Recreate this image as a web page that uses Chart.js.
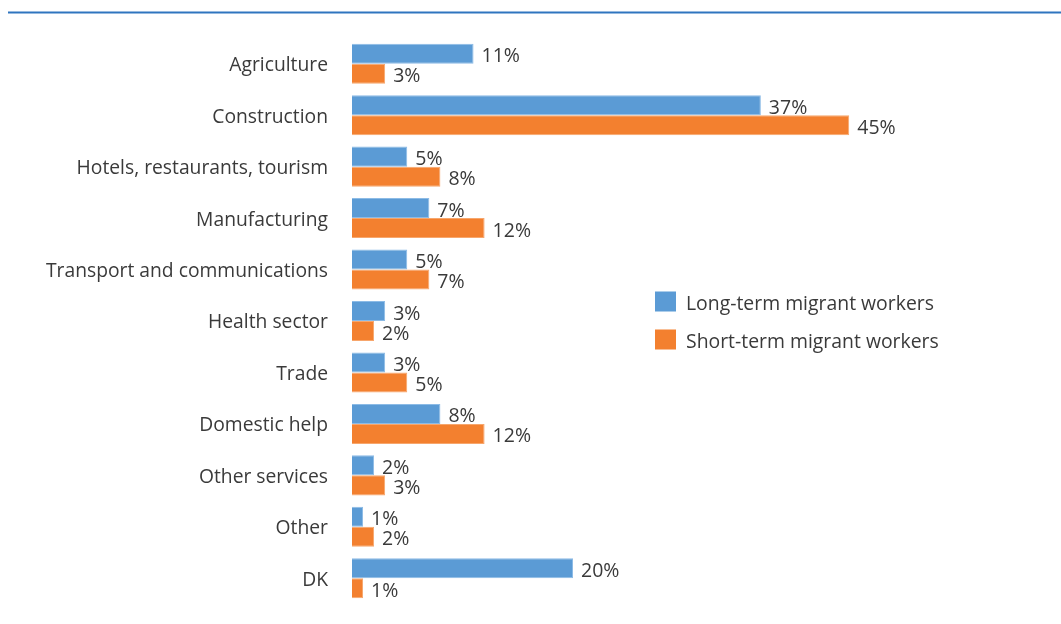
<!DOCTYPE html>
<html>
<head>
<meta charset="utf-8">
<script src="https://cdn.jsdelivr.net/npm/chart.js@4/dist/chart.umd.min.js"></script>
<style>
  html, body { margin: 0; padding: 0; background: #ffffff; }
  #wrap { width: 1061px; height: 624px; position: relative; }
</style>
</head>
<body>
<div id="wrap"><canvas id="chart"></canvas></div>
<script>
// Sectors of employment, share of migrant workers (%)
const sectors = [
  'Agriculture',
  'Construction',
  'Hotels, restaurants, tourism',
  'Manufacturing',
  'Transport and communications',
  'Health sector',
  'Trade',
  'Domestic help',
  'Other services',
  'Other',
  'DK'
];
const longTerm  = [11, 37, 5, 7, 5, 3, 3, 8, 2, 1, 20];
const shortTerm = [3, 45, 8, 12, 7, 2, 5, 12, 3, 2, 1];
const seriesNames = ['Long-term migrant workers', 'Short-term migrant workers'];

const FONT = '"Open Sans", Lato, sans-serif';
const TICK_SIZE = 19.3;
const LABEL_SIZE = 19.5;
const LEGEND_SIZE = 19.4;
const TEXT = '#3a3a3a';
const BLUE = '#5b9bd5';
const ORANGE = '#f3802f';

// Thin rule across the top of the figure
const topRule = {
  id: 'topRule',
  beforeDraw(chart) {
    const c = chart.ctx;
    c.save();
    c.strokeStyle = '#2f75bf';
    c.lineWidth = 2;
    c.beginPath();
    c.moveTo(8, 12.5);
    c.lineTo(chart.width, 12.5);
    c.stroke();
    c.restore();
  }
};

// Percent labels at the end of each bar
const valueLabels = {
  id: 'valueLabels',
  afterDatasetsDraw(chart) {
    const c = chart.ctx;
    c.save();
    c.font = LABEL_SIZE + 'px ' + FONT;
    c.fillStyle = TEXT;
    c.textAlign = 'left';
    c.textBaseline = 'middle';
    chart.data.datasets.forEach((ds, i) => {
      const meta = chart.getDatasetMeta(i);
      meta.data.forEach((bar, j) => {
        c.fillText(ds.data[j] + '%', bar.x + 8, bar.y + 3);
      });
    });
    c.restore();
  }
};

// Legend block placed to the right of the bars
const sideLegend = {
  id: 'sideLegend',
  afterDraw(chart) {
    const c = chart.ctx;
    c.save();
    c.font = LEGEND_SIZE + 'px ' + FONT;
    c.textBaseline = 'middle';
    c.textAlign = 'left';
    const x0 = 655, y0 = 301.5, gap = 38;
    chart.data.datasets.forEach((ds, i) => {
      const y = y0 + i * gap;
      c.fillStyle = ds.backgroundColor;
      c.fillRect(x0, y - 10, 21, 20);
      c.fillStyle = TEXT;
      c.fillText(ds.label, x0 + 31, y + 2.5);
    });
    c.restore();
  }
};

new Chart(document.getElementById('chart'), {
  type: 'bar',
  data: {
    labels: sectors,
    datasets: [
      { label: seriesNames[0], data: longTerm, backgroundColor: BLUE,
        borderColor: '#8cbbe6', borderWidth: 1 },
      { label: seriesNames[1], data: shortTerm, backgroundColor: ORANGE,
        borderColor: '#f7a66c', borderWidth: 1 }
    ]
  },
  options: {
    indexAxis: 'y',
    responsive: true,
    maintainAspectRatio: false,
    animation: false,
    layout: { padding: { left: 0, right: 46, top: 38, bottom: 20 } },
    datasets: { bar: { categoryPercentage: 0.778, barPercentage: 1.0 } },
    scales: {
      x: { min: 0, max: 60, display: false },
      y: {
        grid: { display: false },
        border: { display: false },
        ticks: { color: TEXT, font: { family: FONT, size: TICK_SIZE }, padding: 16, labelOffset: 2 },
        afterFit(scale) {
          // fixed axis width; no extra room reserved above/below the category band
          scale.width = 352;
          scale.paddingTop = 0;
          scale.paddingBottom = 0;
        }
      }
    },
    plugins: {
      legend: { display: false },
      tooltip: { enabled: false }
    }
  },
  plugins: [topRule, valueLabels, sideLegend]
});
</script>
</body>
</html>
